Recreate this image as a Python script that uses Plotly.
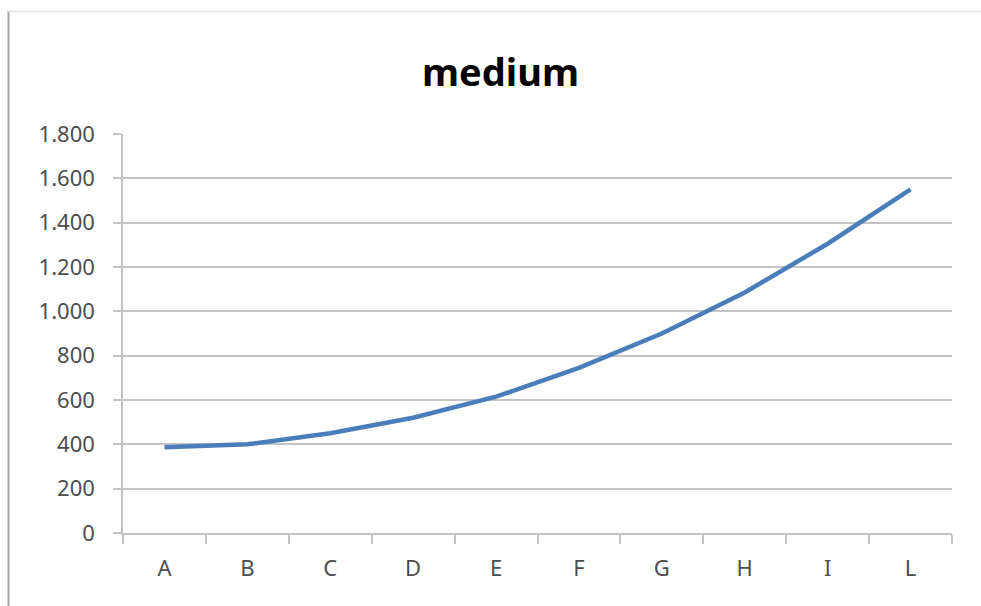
import plotly.graph_objects as go

# Category labels and the "medium" series values
categories = ["A", "B", "C", "D", "E", "F", "G", "H", "I", "L"]
medium = [387, 400, 450, 520, 615, 745, 900, 1085, 1305, 1550]

# Value axis settings
y_min, y_max, y_step = 0, 1800, 200

grid_color = "#c4c4c4"
label_color = "#4d4d4d"
line_color = "#4a7ebb"

fig = go.Figure()
fig.add_trace(go.Scatter(
    x=categories,
    y=medium,
    mode="lines",
    line=dict(color=line_color, width=4.5),
    showlegend=False,
    hoverinfo="x+y",
))

W, H = 981, 606
L, R, T, B = 123, 29, 134, 73
plot_w = W - L - R
plot_h = H - T - B

def px_to_paper_x(px):
    return (px - L) / plot_w

def px_to_paper_y(py):
    return (H - B - py) / plot_h

fig.update_layout(
    width=W,
    height=H,
    margin=dict(l=L, r=R, t=T, b=B, pad=0),
    paper_bgcolor="white",
    plot_bgcolor="white",
    separators=",.",
    font=dict(family="Noto Sans", size=22, color=label_color),
    title=dict(
        text="<b>medium</b>",
        font=dict(family="Noto Sans", size=38, color="#000000"),
        x=500.5 / W,
        xanchor="center",
        xref="container",
        y=1 - 73 / H,
        yanchor="middle",
        yref="container",
    ),
    xaxis=dict(
        type="category",
        range=[-0.5, len(categories) - 0.5],
        tickson="boundaries",
        ticks="outside",
        ticklen=9,
        tickwidth=1.5,
        tickcolor=grid_color,
        showline=True,
        linecolor=grid_color,
        linewidth=1.5,
        showgrid=False,
        ticklabelstandoff=15,
        tickfont=dict(family="Noto Sans", size=22, color=label_color),
        fixedrange=True,
    ),
    yaxis=dict(
        range=[y_min, y_max],
        dtick=y_step,
        tick0=0,
        tickformat=",d",
        ticks="outside",
        ticklen=8,
        tickwidth=1.5,
        tickcolor=grid_color,
        showline=True,
        linecolor=grid_color,
        linewidth=1.5,
        showgrid=True,
        gridcolor=grid_color,
        gridwidth=1.5,
        zeroline=False,
        ticklabelstandoff=14,
        tickfont=dict(family="Noto Sans", size=22, color=label_color),
        fixedrange=True,
    ),
    shapes=[
        # chart-area frame: left edge and top edge
        dict(type="line", xref="paper", yref="paper",
             x0=px_to_paper_x(8.5), x1=px_to_paper_x(8.5),
             y0=px_to_paper_y(11), y1=px_to_paper_y(H + 5),
             line=dict(color="#a6a6a6", width=2)),
        dict(type="line", xref="paper", yref="paper",
             x0=px_to_paper_x(8), x1=px_to_paper_x(W + 5),
             y0=px_to_paper_y(11.5), y1=px_to_paper_y(11.5),
             line=dict(color="#e0e0e0", width=1.5)),
    ],
)

fig.write_html("out.html")
